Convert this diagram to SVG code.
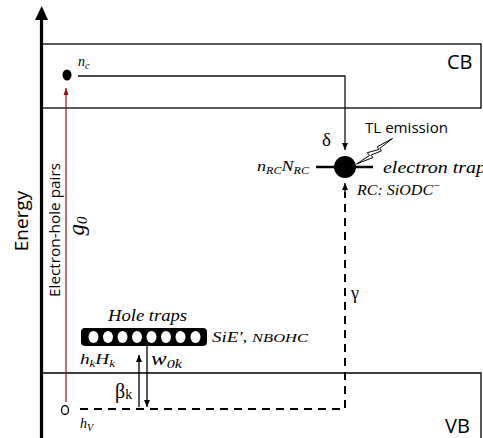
<svg xmlns="http://www.w3.org/2000/svg" width="483" height="438" viewBox="0 0 483 438">
<style>
.sans{font-family:"Open Sans","Liberation Sans",sans-serif;fill:#000}
.math{font-family:"Liberation Serif","DejaVu Serif",serif;font-style:italic;fill:#000}
.greek{font-family:"Liberation Serif","DejaVu Serif",serif;fill:#000}
.band{fill:none;stroke:#000;stroke-width:1.3}
.conn{fill:none;stroke:#111;stroke-width:1.3}
.dash{fill:none;stroke:#000;stroke-width:2;stroke-dasharray:8,6}
</style>
<defs>
<marker id="ah" markerWidth="8" markerHeight="8" refX="7" refY="4" orient="auto" markerUnits="userSpaceOnUse">
<path d="M0,1 L7,4 L0,7 Z" fill="#000"/>
</marker>
<marker id="ahr" markerWidth="8" markerHeight="8" refX="7" refY="4" orient="auto" markerUnits="userSpaceOnUse">
<path d="M0,1.5 L7,4 L0,6.5 Z" fill="#a01010"/>
</marker>
</defs>
<rect width="483" height="438" fill="#fff"/>

<g id="axis">
<line x1="41.5" y1="438" x2="41.5" y2="18" stroke="#000" stroke-width="3.2"/>
<path d="M35,20 L41.7,6 L48,20 Z" fill="#000"/>
<text class="sans" font-size="19" text-anchor="middle" transform="translate(28,221) rotate(-90)">Energy</text>
</g>

<g id="CB">
<rect class="band" x="41" y="44" width="440" height="64"/>
<text class="sans" x="447" y="69" font-size="20">CB</text>
</g>

<g id="VB">
<path class="band" d="M41,373 H481 V440"/>
<text class="sans" x="445" y="433" font-size="20">VB</text>
</g>

<g id="nc">
<ellipse cx="67" cy="75" rx="4.5" ry="5.5" fill="#000"/>
<text class="math" x="78" y="66" font-size="14">n<tspan font-size="10" dy="3">c</tspan></text>
</g>

<g id="hv">
<ellipse cx="65" cy="410" rx="3.5" ry="4.5" fill="none" stroke="#000" stroke-width="1.3"/>
<text class="math" x="80" y="428" font-size="14">h<tspan font-size="10" dy="3">V</tspan></text>
</g>

<g id="RC">
<line x1="316" y1="167" x2="373" y2="167" stroke="#000" stroke-width="2.6"/>
<circle cx="345" cy="167" r="11" fill="#000"/>
<text class="math" x="257" y="171" font-size="15" textLength="52" lengthAdjust="spacingAndGlyphs">n<tspan font-size="10" dy="3">RC</tspan><tspan dy="-3">N</tspan><tspan font-size="10" dy="3">RC</tspan></text>
<text class="math" x="383" y="173" font-size="17" textLength="103" lengthAdjust="spacingAndGlyphs">electron trap</text>
<text class="math" x="357" y="195" font-size="15" textLength="84" lengthAdjust="spacingAndGlyphs">RC: SiODC<tspan font-size="11" dy="-6">−</tspan></text>
<path d="M392.5,138.5 L377.3,146.7 L378.8,149.5 L367.3,152.7 L369.5,155.5 L356.5,164 L373,157.5 L370.9,155.2 L381.5,150.8 L379.8,148.3 Z" fill="#fff" stroke="#000" stroke-width="1"/>
<text class="sans" x="365" y="133" font-size="14" textLength="83" lengthAdjust="spacingAndGlyphs">TL emission</text>
</g>

<g id="holetraps">
<rect x="81" y="328" width="126" height="18" rx="4" fill="#000"/>
<g fill="#fff">
<ellipse cx="93.5" cy="337" rx="5" ry="6"/>
<ellipse cx="108" cy="337" rx="5" ry="6"/>
<ellipse cx="122.5" cy="337" rx="5" ry="6"/>
<ellipse cx="137" cy="337" rx="5" ry="6"/>
<ellipse cx="151.5" cy="337" rx="5" ry="6"/>
<ellipse cx="166" cy="337" rx="5" ry="6"/>
<ellipse cx="180.5" cy="337" rx="5" ry="6"/>
<ellipse cx="195.5" cy="337" rx="5" ry="6"/>
</g>
<text class="math" x="108" y="321" font-size="17" textLength="79" lengthAdjust="spacingAndGlyphs">Hole traps</text>
<text class="math" x="212" y="342" font-size="15" textLength="96" lengthAdjust="spacingAndGlyphs">SiE′, <tspan font-size="13">NBOHC</tspan></text>
<text class="math" x="80" y="364" font-size="15" textLength="35" lengthAdjust="spacingAndGlyphs">h<tspan font-size="10" dy="3">k</tspan><tspan dy="-3">H</tspan><tspan font-size="10" dy="3">k</tspan></text>
</g>

<g id="connectors">
<path class="conn" d="M78,76 H345 V150" marker-end="url(#ah)"/>
<line x1="66" y1="402" x2="66" y2="88" stroke="#a01010" stroke-width="1.2" marker-end="url(#ahr)"/>
<path class="dash" d="M80,409 H345 V192"/>
<line x1="345" y1="193" x2="345" y2="183" stroke="#000" stroke-width="1.3" marker-end="url(#ah)"/>
<line x1="139" y1="407" x2="139" y2="355" stroke="#000" stroke-width="1.3" marker-end="url(#ah)"/>
<line x1="147" y1="346" x2="147" y2="407" stroke="#000" stroke-width="1.3" marker-end="url(#ah)"/>
</g>

<g id="labels">
<text class="sans" font-size="14" text-anchor="middle" transform="translate(60,230) rotate(-90)" textLength="134" lengthAdjust="spacingAndGlyphs">Electron-hole pairs</text>
<text class="math" font-size="23" text-anchor="middle" transform="translate(84,226) rotate(-90)">g<tspan font-size="15" dy="3">0</tspan></text>
<text class="greek" x="322" y="146" font-size="19">δ</text>
<text class="greek" x="351" y="299" font-size="18">γ</text>
<text class="greek" x="115" y="398" font-size="20">β<tspan font-size="14" dy="1">k</tspan></text>
<text class="math" x="151" y="365" font-size="19" textLength="31" lengthAdjust="spacingAndGlyphs">w<tspan font-size="13" dy="3">0k</tspan></text>
</g>
</svg>
